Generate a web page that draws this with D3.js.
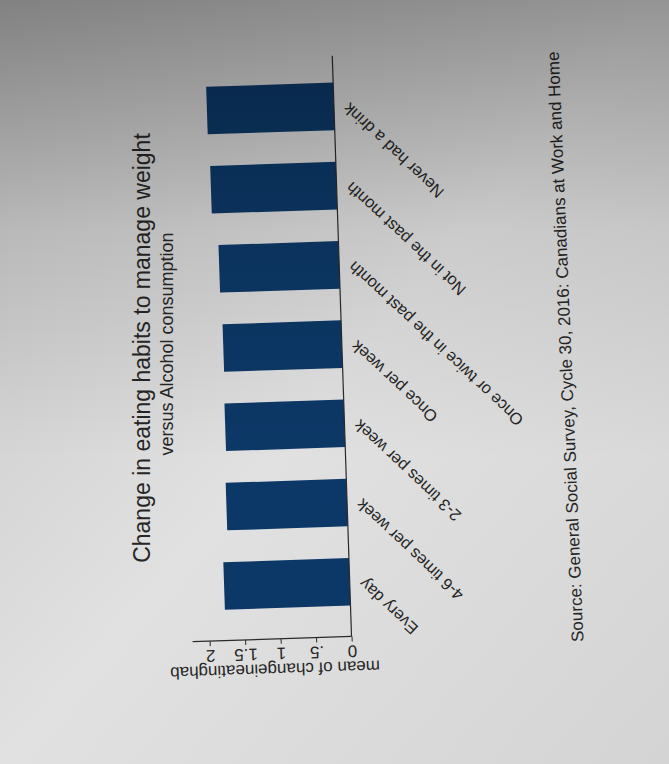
<!DOCTYPE html>
<html>
<head>
<meta charset="utf-8">
<script src="https://cdn.jsdelivr.net/npm/d3@7"></script>
<style>
  html, body { margin: 0; padding: 0; background: #dadada; }
  svg { display: block; }
  text { font-family: 'Liberation Sans', Arial, sans-serif; fill: #262626; }
</style>
</head>
<body>
<svg id="chart" width="669" height="764"></svg>
<script>
/* chart data */
const categories = [
  'Every day',
  '4-6 times per week',
  '2-3 times per week',
  'Once per week',
  'Once or twice in the past month',
  'Not in the past month',
  'Never had a drink'
]
const means = [1.77, 1.7, 1.68, 1.67, 1.69, 1.77, 1.79]
const yTicks = [0, 0.5, 1, 1.5, 2]
const yTickLabels = ['0', '.5', '1', '1.5', '2']
const titleText = 'Change in eating habits to manage weight'
const subtitleText = 'versus Alcohol consumption'
const yAxisTitle = 'mean of changeineatinghab'
const noteText =
  'Source: General Social Survey, Cycle 30, 2016: Canadians at Work and Home'

/* the photographed chart lies on its side: draw it upright in a 764 x 669
frame, then turn it a quarter turn anticlockwise. The photo is skewed, so the
plot and the note get a small tilt of their own */
const frameW = 764
const plot = { left: 126, right: 707, top: 183, base: 342 }
const barColor = '#0c3867'

const svg = d3.select('#chart')

/* background and photo shading */
const defs = svg.append('defs')
const bg = defs
  .append('linearGradient')
  .attr('id', 'bg')
  .attr('x1', 0)
  .attr('y1', 0)
  .attr('x2', 1)
  .attr('y2', 1)
bg.append('stop').attr('offset', 0).attr('stop-color', '#c4c4c4')
bg.append('stop').attr('offset', 0.5).attr('stop-color', '#e1e1e1')
bg.append('stop').attr('offset', 1).attr('stop-color', '#d4d4d4')

const shade = defs
  .append('linearGradient')
  .attr('id', 'shade')
  .attr('x1', 0)
  .attr('y1', 0)
  .attr('x2', 0)
  .attr('y2', 1)
shade.append('stop').attr('offset', 0).attr('stop-color', '#000').attr('stop-opacity', 0.34)
shade.append('stop').attr('offset', 0.3).attr('stop-color', '#000').attr('stop-opacity', 0.1)
shade.append('stop').attr('offset', 0.6).attr('stop-color', '#000').attr('stop-opacity', 0)

svg.append('rect').attr('width', 669).attr('height', 764).attr('fill', 'url(#bg)')

const g = svg.append('g').attr('transform', `translate(0, ${frameW}) rotate(-90)`)

/* plot part, tilted with the photo */
const p = g.append('g').attr('transform', 'rotate(-1.9, 414, 300)')

/* scales: categories along the frame width, means along its height */
const xScale = d3
  .scaleBand()
  .domain(categories)
  .range([141, 696])
  .paddingInner(0.4)
  .paddingOuter(0.2)

const yScale = d3.scaleLinear().domain([0, 2]).range([plot.base, 200])

/* bars */
p.selectAll('rect.bar')
  .data(categories)
  .join('rect')
  .attr('class', 'bar')
  .attr('x', (d) => xScale(d))
  .attr('width', xScale.bandwidth())
  .attr('y', (d, i) => yScale(means[i]))
  .attr('height', (d, i) => yScale(0) - yScale(means[i]))
  .attr('fill', barColor)

/* baseline along the bars */
p.append('line')
  .attr('x1', plot.left)
  .attr('x2', plot.right)
  .attr('y1', plot.base)
  .attr('y2', plot.base)
  .attr('stroke', '#2a2a2a')
  .attr('stroke-width', 1.2)

/* value axis */
const yAxis = d3
  .axisLeft(yScale)
  .tickValues(yTicks)
  .tickFormat((d, i) => yTickLabels[i])
  .tickSize(5)
  .tickSizeOuter(0)

const axisG = p
  .append('g')
  .attr('transform', `translate(${plot.left}, 0)`)
  .call(yAxis)
axisG.select('.domain').remove()
axisG.selectAll('line').attr('stroke', '#2a2a2a')
axisG
  .selectAll('text')
  .attr('x', null)
  .attr('dy', null)
  .attr('text-anchor', 'middle')
  .attr('transform', 'translate(-9, 0) rotate(-90)')
  .style('font-size', '17px')
  .attr('fill', '#262626')

p.append('line')
  .attr('x1', plot.left)
  .attr('x2', plot.left)
  .attr('y1', plot.base)
  .attr('y2', plot.top)
  .attr('stroke', '#2a2a2a')
  .attr('stroke-width', 1.2)

p.append('text')
  .attr('transform', `translate(101, ${(plot.top + plot.base) / 2 + 2}) rotate(-90)`)
  .attr('text-anchor', 'middle')
  .style('font-size', '17px')
  .text(yAxisTitle)

/* angled category labels under the bars */
p.selectAll('text.cat')
  .data(categories)
  .join('text')
  .attr('class', 'cat')
  .attr(
    'transform',
    (d) =>
      `translate(${xScale(d) + xScale.bandwidth() / 2}, ${plot.base + 12}) rotate(-45)`
  )
  .attr('text-anchor', 'end')
  .attr('dy', '0.35em')
  .style('font-size', '16.5px')
  .text((d) => d)

/* titles */
g.append('text')
  .attr('x', 416)
  .attr('y', 150)
  .attr('text-anchor', 'middle')
  .style('font-size', '23px')
  .text(titleText)

g.append('text')
  .attr('x', 420)
  .attr('y', 173)
  .attr('text-anchor', 'middle')
  .style('font-size', '18px')
  .text(subtitleText)

/* note, tilted like the plot */
g.append('text')
  .attr('x', 122)
  .attr('y', 571)
  .attr('transform', 'rotate(-2.4, 418, 571)')
  .style('font-size', '17px')
  .text(noteText)

/* darker edge of the photo */
svg
  .append('rect')
  .attr('width', 669)
  .attr('height', 764)
  .attr('fill', 'url(#shade)')
  .attr('pointer-events', 'none')
</script>
</body>
</html>
